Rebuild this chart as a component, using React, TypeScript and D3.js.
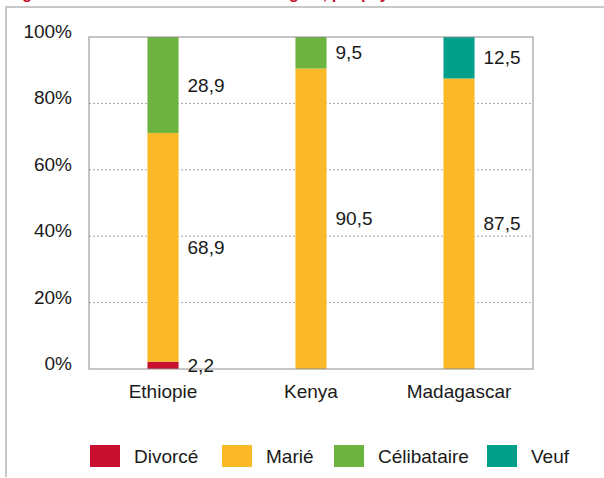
import React from "react";
import * as d3 from "d3";

const countries = ["Ethiopie", "Kenya", "Madagascar"];
const seriesNames = ["Divorcé", "Marié", "Célibataire", "Veuf"];
const divorce = [2.2, 0, 0];
const marie = [68.9, 90.5, 87.5];
const celibataire = [28.9, 9.5, 0];
const veuf = [0, 0, 12.5];
const colors = ["#C8102E", "#FBB927", "#6DB33F", "#00A08A"];
const yTicks = [0, 20, 40, 60, 80, 100];
const legendX = [90, 222, 334, 487];

const W = 604;
const H = 478;
const M = { left: 89, right: 533, top: 37, bottom: 369 };
const FONT = "Liberation Sans, Arial, sans-serif";

export default function App() {
  const values = [divorce, marie, celibataire, veuf];
  const x = d3
    .scaleBand<string>()
    .domain(countries)
    .range([M.left, M.right])
    .paddingInner(0.79)
    .paddingOuter(0.395);
  const y = d3.scaleLinear().domain([0, 100]).range([M.bottom, M.top]);

  const rows = countries.map((c, i) => {
    const r: any = { country: c };
    seriesNames.forEach((s, k) => (r[s] = values[k][i]));
    return r;
  });
  const stacked = d3.stack<any>().keys(seriesNames)(rows);

  return (
    <svg
      width={W}
      height={H}
      style={{ position: "absolute", left: 0, top: 0, background: "#fff" }}
      fontFamily={FONT}
    >
      <rect x={0} y={0} width={W} height={H} fill="#fff" />
      <text x={8} y={-1} fill="#C8102E" fontSize={16} fontWeight="bold">
        Figure 3 : Statut matrimonial des émigrés, par pays
      </text>
      <line x1={6} x2={W} y1={7} y2={7} stroke="#c8c8c8" strokeWidth={2} />
      <line x1={6} x2={6} y1={6} y2={477} stroke="#c8c8c8" strokeWidth={2} />

      {yTicks
        .filter((t) => t > 0 && t < 100)
        .map((t) => (
          <line
            key={"g" + t}
            x1={M.left}
            x2={M.right}
            y1={y(t)}
            y2={y(t)}
            stroke="#a6a6a6"
            strokeWidth={1}
            strokeDasharray="2,2"
          />
        ))}

      {stacked.map((layer, k) =>
        layer.map((d, i) => {
          const h = y(d[0]) - y(d[1]);
          if (h <= 0) return null;
          return (
            <rect
              key={k + "-" + i}
              x={x(countries[i])!}
              y={y(d[1])}
              width={x.bandwidth()}
              height={h}
              fill={colors[k]}
            />
          );
        })
      )}

      <rect
        x={M.left}
        y={M.top}
        width={M.right - M.left}
        height={M.bottom - M.top}
        fill="none"
        stroke="#8c8c8c"
        strokeWidth={1}
      />

      {stacked.map((layer, k) =>
        layer.map((d, i) => {
          const v = values[k][i];
          if (!v) return null;
          return (
            <text
              key={"l" + k + "-" + i}
              x={x(countries[i])! + x.bandwidth() + 9}
              y={y((d[0] + d[1]) / 2)}
              dy="0.35em"
              fontSize={19}
              fill="#1a1a1a"
            >
              {d3.format(".1f")(v).replace(".", ",")}
            </text>
          );
        })
      )}

      {yTicks.map((t) => (
        <text
          key={"t" + t}
          x={72}
          y={y(t) + 1}
          textAnchor="end"
          fontSize={19}
          fill="#1a1a1a"
        >
          {t}%
        </text>
      ))}

      {countries.map((c) => (
        <text
          key={"c" + c}
          x={x(c)! + x.bandwidth() / 2}
          y={398}
          textAnchor="middle"
          fontSize={19}
          fill="#1a1a1a"
        >
          {c}
        </text>
      ))}

      {seriesNames.map((s, k) => (
        <g key={"lg" + s} transform={`translate(${legendX[k]},445)`}>
          <rect x={0} y={0} width={30} height={22} fill={colors[k]} />
          <text x={44} y={18} fontSize={19} fill="#1a1a1a">
            {s}
          </text>
        </g>
      ))}
    </svg>
  );
}
